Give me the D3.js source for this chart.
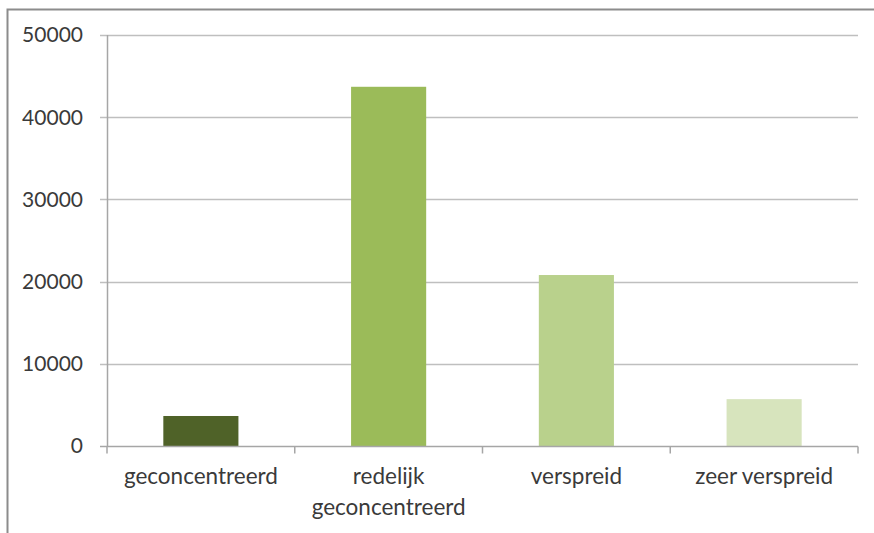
<!DOCTYPE html>
<html>
<head>
<meta charset="utf-8">
<script src="https://cdn.jsdelivr.net/npm/d3@7"></script>
<style>
  html, body { margin: 0; padding: 0; background: #fff; }
  svg { display: block; }
  text { font-family: Lato, "Open Sans", sans-serif; fill: #3a3a3a; }
</style>
</head>
<body>
<svg id="chart" width="874" height="533"></svg>
<script>
// Data
const categories = ["geconcentreerd", "redelijk geconcentreerd", "verspreid", "zeer verspreid"];
const categoryLines = [["geconcentreerd"], ["redelijk", "geconcentreerd"], ["verspreid"], ["zeer verspreid"]];
const values = [3650, 43700, 20800, 5700];
const barColors = ["#4F6228", "#9BBB59", "#B9D18C", "#D7E4BD"];
const yTicks = [0, 10000, 20000, 30000, 40000, 50000];

const svg = d3.select("#chart");

// Outer chart frame
svg.append("rect")
  .attr("x", 7.5).attr("y", 9.5)
  .attr("width", 900).attr("height", 600)
  .attr("fill", "none")
  .attr("stroke", "#8c8c8c")
  .attr("stroke-width", 2);

const plot = { left: 107, right: 858, top: 35, bottom: 446 };

const x = d3.scaleBand()
  .domain(categories)
  .range([plot.left, plot.right])
  .paddingInner(0.6)
  .paddingOuter(0.3);

const y = d3.scaleLinear()
  .domain([0, 50000])
  .range([plot.bottom, plot.top]);

// Horizontal gridlines (with short tick marks left of the axis)
svg.append("g")
  .selectAll("line")
  .data(yTicks.filter(d => d > 0))
  .join("line")
  .attr("x1", plot.left - 7).attr("x2", plot.right)
  .attr("y1", d => Math.round(y(d)) + 0.5).attr("y2", d => Math.round(y(d)) + 0.5)
  .attr("stroke", "#bfbfbf")
  .attr("stroke-width", 1.5);

// Bars
svg.append("g")
  .selectAll("rect")
  .data(values)
  .join("rect")
  .attr("x", (d, i) => x(categories[i]))
  .attr("width", x.bandwidth())
  .attr("y", d => y(d))
  .attr("height", d => y(0) - y(d))
  .attr("fill", (d, i) => barColors[i]);

// Y axis line
svg.append("line")
  .attr("x1", plot.left + 0.5).attr("x2", plot.left + 0.5)
  .attr("y1", plot.top).attr("y2", plot.bottom)
  .attr("stroke", "#a6a6a6").attr("stroke-width", 1.5);

// X axis line with category boundary ticks
const axisY = Math.round(y(0)) + 0.5;
svg.append("line")
  .attr("x1", plot.left - 7).attr("x2", plot.right)
  .attr("y1", axisY).attr("y2", axisY)
  .attr("stroke", "#a6a6a6").attr("stroke-width", 1.5);

const step = x.step();
const boundaries = d3.range(categories.length + 1).map(i => plot.left + i * step);
svg.append("g")
  .selectAll("line")
  .data(boundaries)
  .join("line")
  .attr("x1", d => d).attr("x2", d => d)
  .attr("y1", axisY).attr("y2", axisY + 7)
  .attr("stroke", "#a6a6a6").attr("stroke-width", 1.5);

// Y tick labels
svg.append("g")
  .selectAll("text")
  .data(yTicks)
  .join("text")
  .attr("x", 83)
  .attr("y", d => y(d))
  .attr("dy", "0.35em")
  .attr("text-anchor", "end")
  .style("font-size", "21px")
  .text(d => d);

// Category labels
const labels = svg.append("g")
  .selectAll("text")
  .data(categoryLines)
  .join("text")
  .attr("text-anchor", "middle")
  .style("font-size", "22.5px")
  .attr("transform", (d, i) => `translate(${x(categories[i]) + x.bandwidth() / 2},484)`);

labels.selectAll("tspan")
  .data(d => d)
  .join("tspan")
  .attr("x", 0)
  .attr("y", (d, j) => j * 31)
  .text(d => d);
</script>
</body>
</html>
